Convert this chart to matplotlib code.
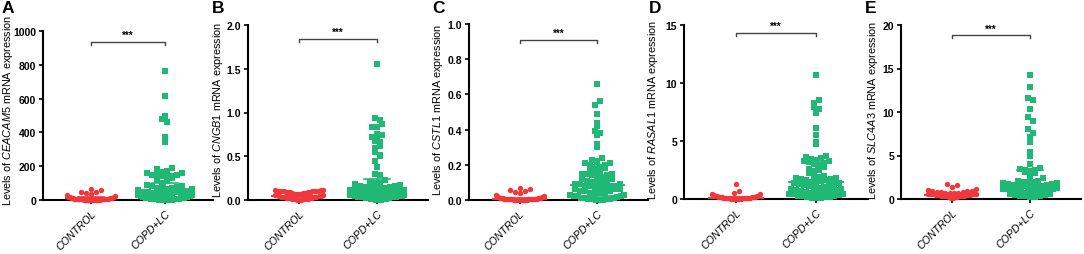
import numpy as np
import matplotlib
matplotlib.use("Agg")
import matplotlib.pyplot as plt

plt.rcParams['font.family'] = ['Liberation Sans', 'DejaVu Sans']
plt.rcParams['mathtext.fontset'] = 'custom'
plt.rcParams['mathtext.it'] = 'Liberation Sans:italic'
plt.rcParams['mathtext.rm'] = 'Liberation Sans'

categories = ["CONTROL", "COPD+LC"]
panel_letters = ["A", "B", "C", "D", "E"]
genes = ["CEACAM5", "CNGB1", "CSTL1", "RASAL1", "SLC4A3"]
y_max = [1000, 2.0, 1.0, 15, 20]
y_ticks = [[0, 200, 400, 600, 800, 1000], [0.0, 0.5, 1.0, 1.5, 2.0],
           [0.0, 0.2, 0.4, 0.6, 0.8, 1.0], [0, 5, 10, 15], [0, 5, 10, 15, 20]]
tick_fmt = ["{:.0f}", "{:.1f}", "{:.1f}", "{:.0f}", "{:.0f}"]
bracket_y = [935, 1.84, 0.91, 14.3, 18.8]

A_ctrl = [0, 0, 0.5, 0.5, 1, 1, 1, 1.5, 1.5, 2, 2, 2, 2.5, 3, 3, 3.5, 4, 4, 4.5, 5, 5, 6, 6, 7, 7, 8,
          9, 10, 11, 12, 13, 15, 17, 20, 24, 28, 35, 40, 45, 50, 60, 68]
A_copd = [0, 0, 0.5, 1, 1, 1.5, 2, 2, 2.5, 3, 3, 4, 4, 5, 5, 6, 7, 8, 9, 10, 11, 12, 13, 14, 15, 16,
          18, 20, 22, 24, 26, 28, 30, 32, 35, 38, 40, 42, 44, 45, 46, 48, 50, 55, 60, 65, 68, 70, 70,
          72, 75, 80, 85, 90, 100, 110, 120, 130, 135, 140, 140, 145, 150, 150, 160, 160, 165, 170,
          185, 190, 345, 370, 460, 480, 495, 615, 765]
B_ctrl = [0, 0.002, 0.004, 0.006, 0.008, 0.01, 0.012, 0.015, 0.018, 0.02, 0.022, 0.025, 0.028, 0.03,
          0.033, 0.036, 0.04, 0.043, 0.046, 0.05, 0.053, 0.056, 0.06, 0.063, 0.066, 0.07, 0.073, 0.076,
          0.08, 0.083, 0.086, 0.09, 0.092, 0.094, 0.096, 0.098, 0.1, 0.1, 0.1, 0.1, 0.1, 0.1, 0.105,
          0.11, 0.12, 0.12]
B_copd = [1.56, 0.94, 0.92, 0.87, 0.84, 0.83, 0.76, 0.74, 0.72, 0.70, 0.68, 0.66, 0.62, 0.60, 0.55,
          0.51, 0.50, 0.45, 0.38, 0.30, 0.29, 0.23, 0.21, 0.2, 0.19, 0.18, 0.17, 0.16, 0.16, 0.15, 0.15,
          0.14, 0.14, 0.13, 0.13, 0.12, 0.12, 0.11, 0.11, 0.1, 0.1, 0.1, 0.09, 0.09, 0.08, 0.08, 0.08,
          0.07, 0.07, 0.07, 0.06, 0.06, 0.06, 0.05, 0.05, 0.05, 0.04, 0.04, 0.04, 0.03, 0.03, 0.03,
          0.02, 0.02, 0.02, 0.015, 0.01, 0.01, 0.008, 0.005, 0.003, 0.001]
C_ctrl = [0, 0, 0, 0, 0.001, 0.001, 0.001, 0.002, 0.002, 0.002, 0.003, 0.003, 0.003, 0.004, 0.004,
          0.005, 0.005, 0.005, 0.006, 0.006, 0.007, 0.007, 0.008, 0.008, 0.009, 0.01, 0.01, 0.011,
          0.012, 0.013, 0.015, 0.018, 0.02, 0.025, 0.03, 0.04, 0.045, 0.05, 0.055, 0.06, 0.07]
C_copd = [0.66, 0.56, 0.54, 0.49, 0.44, 0.42, 0.39, 0.38, 0.37, 0.32, 0.30, 0.24, 0.23, 0.22, 0.21,
          0.21, 0.2, 0.2, 0.19, 0.19, 0.18, 0.17, 0.16, 0.16, 0.15, 0.15, 0.15, 0.14, 0.14, 0.13, 0.13,
          0.12, 0.12, 0.11, 0.11, 0.1, 0.1, 0.1, 0.09, 0.09, 0.09, 0.08, 0.08, 0.08, 0.08, 0.07, 0.07,
          0.07, 0.06, 0.06, 0.06, 0.05, 0.05, 0.05, 0.04, 0.04, 0.04, 0.035, 0.03, 0.03, 0.025, 0.02,
          0.02, 0.015, 0.012, 0.01, 0.01, 0.008, 0.006, 0.004, 0.003, 0.002, 0.001, 0]
D_ctrl = [0, 0.01, 0.02, 0.02, 0.03, 0.03, 0.04, 0.05, 0.05, 0.06, 0.07, 0.08, 0.08, 0.09, 0.1, 0.1,
          0.11, 0.12, 0.13, 0.14, 0.15, 0.16, 0.18, 0.2, 0.22, 0.25, 0.28, 0.3, 0.35, 0.4, 0.45, 0.5,
          0.65, 1.3]
D_copd = [10.7, 8.5, 8.3, 7.9, 7.8, 7.4, 6.1, 5.5, 4.9, 4.7, 3.75, 3.65, 3.5, 3.45, 3.35, 3.3, 3.25,
          3.2, 3.1, 3.0, 2.9, 2.75, 2.6, 2.5, 2.45, 2.2, 2.0, 1.95, 1.9, 1.85, 1.8, 1.75, 1.7, 1.65, 1.6,
          1.55, 1.5, 1.45, 1.4, 1.35, 1.3, 1.25, 1.2, 1.15, 1.1, 1.05, 1.0, 0.95, 0.9, 0.85, 0.8, 0.75,
          0.7, 0.7, 0.65, 0.6, 0.55, 0.5, 0.5, 0.45, 0.4, 0.4, 0.35, 0.3, 0.3, 0.25, 0.2, 0.2, 0.15,
          0.1, 0.1, 0.05]
E_ctrl = [0.1, 0.15, 0.2, 0.2, 0.25, 0.3, 0.3, 0.32, 0.35, 0.35, 0.38, 0.4, 0.4, 0.42, 0.45, 0.45,
          0.48, 0.5, 0.5, 0.52, 0.55, 0.55, 0.58, 0.6, 0.6, 0.62, 0.65, 0.68, 0.7, 0.72, 0.75, 0.8,
          0.85, 0.9, 0.9, 0.95, 1.0, 1.1, 1.4, 1.65, 1.7]
E_copd = [14.3, 12.9, 11.6, 11.4, 10.4, 9.4, 9.0, 8.1, 7.6, 7.1, 6.5, 5.4, 4.9, 4.0, 3.6, 3.45, 3.35,
          3.3, 3.2, 3.1, 3.0, 2.65, 2.4, 2.1, 2.05, 2.0, 1.95, 1.9, 1.85, 1.8, 1.75, 1.7, 1.65, 1.6,
          1.55, 1.5, 1.45, 1.4, 1.35, 1.3, 1.25, 1.2, 1.15, 1.1, 1.05, 1.0, 0.95, 0.9, 0.85, 0.8, 0.75,
          0.7, 0.65, 0.6, 0.55, 0.5, 0.45, 0.4, 0.35, 0.3, 0.25, 0.2]

# (median, q1, q3) per group
ctrl_stats = [(10, 3, 20), (0.045, 0.02, 0.07), (0.005, 0.0, 0.01), (0.1, 0.05, 0.2), (0.5, 0.35, 0.7)]
copd_stats = [(45, 15, 100), (0.1, 0.04, 0.24), (0.085, 0.02, 0.2), (1.5, 0.7, 3.2), (1.3, 0.7, 3.3)]

ctrl_data = [A_ctrl, B_ctrl, C_ctrl, D_ctrl, E_ctrl]
copd_data = [A_copd, B_copd, C_copd, D_copd, E_copd]

RED = "#f0373c"
GREEN = "#1fb874"

W, H = 1084, 255
fig = plt.figure(figsize=(W / 100, H / 100), dpi=100)

# axes rectangles in pixels: left, right, top, bottom
rects = [(43, 213, 32, 201), (248, 428, 26, 201), (469, 648, 25, 201),
         (684, 868, 26, 200), (901, 1081, 26, 200)]
label_off = [-28, -23, -24, -24, -21]
letter_x = [2, 212, 432, 649, 865]


def swarm_offsets(ax, vals, bin_px=5.5, d=5.0, maxw=48.0):
    """Prism-like binned swarm: rows of points, lowest values in the middle."""
    vals = np.asarray(vals, float)
    ypix = ax.transData.transform(np.column_stack([np.zeros_like(vals), vals]))[:, 1]
    y0 = ax.transData.transform([(0, 0)])[0, 1]
    x0 = ax.transData.transform([(0, 0)])[0, 0]
    ppu = ax.transData.transform([(1, 0)])[0, 0] - x0
    bins = np.floor((ypix - y0) / bin_px + 1e-9).astype(int)
    offs = np.zeros_like(vals)
    for bidx in np.unique(bins):
        idx = np.where(bins == bidx)[0]
        idx = idx[np.argsort(vals[idx], kind="stable")]
        n = len(idx)
        if n == 1:
            continue
        sp = min(d, maxw / (n - 1))
        slots = (np.arange(n) - (n - 1) / 2.0) * sp
        order = np.argsort(np.abs(slots) + 1e-6 * np.arange(n) * (1 if bidx % 2 else -1), kind="stable")
        for j, i in enumerate(idx):
            offs[i] = slots[order[j]] / ppu
    return offs


for k in range(5):
    l, r, t, b = rects[k]
    ax = fig.add_axes([l / W, 1 - b / H, (r - l) / W, (b - t) / H])
    ax.set_xlim(-0.65, 1.65)
    ax.set_ylim(0, y_max[k])
    for s in ["top", "right"]:
        ax.spines[s].set_visible(False)
    for s in ["left", "bottom"]:
        ax.spines[s].set_linewidth(1.5)
    ax.set_yticks(y_ticks[k])
    ax.set_yticklabels([tick_fmt[k].format(v) for v in y_ticks[k]], fontsize=7.5, fontweight="bold")
    ax.set_xticks([0, 1])
    ax.set_xticklabels(categories, rotation=45, ha="right", rotation_mode="anchor",
                       fontsize=7.6, style="italic")
    ax.tick_params(axis="y", length=3, width=1.2, pad=2)
    ax.tick_params(axis="x", length=3, width=1.2, pad=3)
    ax.set_ylabel("Levels of $\\mathit{" + genes[k] + "}$ mRNA expression", fontsize=7.8)
    ax.yaxis.set_label_coords(label_off[k] / (r - l), (b - 110.0) / (b - t))

    # swarms
    oc = swarm_offsets(ax, ctrl_data[k], maxw=48.0)
    ax.scatter(0 + oc, ctrl_data[k], s=15, marker="o", color=RED, linewidths=0, clip_on=False, zorder=3)
    og = swarm_offsets(ax, copd_data[k], maxw=54.0)
    ax.scatter(1 + og, copd_data[k], s=15, marker="s", color=GREEN, linewidths=0, clip_on=False, zorder=3)

    # median & IQR lines
    for pos, st, col in [(0, ctrl_stats[k], RED), (1, copd_stats[k], GREEN)]:
        med, q1, q3 = st
        ax.plot([pos - 0.34, pos + 0.34], [med, med], color=col, lw=1.5, zorder=4, clip_on=False)
        ax.plot([pos, pos], [q1, q3], color=col, lw=1.2, zorder=4, clip_on=False)
        ax.plot([pos - 0.17, pos + 0.17], [q3, q3], color=col, lw=1.2, zorder=4, clip_on=False)
        ax.plot([pos - 0.17, pos + 0.17], [q1, q1], color=col, lw=1.2, zorder=4, clip_on=False)

    # significance bracket
    h = y_max[k] * 3.0 / (b - t)
    by = bracket_y[k]
    ax.plot([0, 0, 1, 1], [by - h, by, by, by - h], color="#444444", lw=1.0, clip_on=False)
    ax.text(0.5, by + h * 0.6, "***", ha="center", va="bottom", fontsize=7, fontweight="bold")

    fig.text(letter_x[k] / W, 1 - 1 / H, panel_letters[k], fontsize=12.5, fontweight="bold",
             ha="left", va="top")

fig.savefig("out.png", dpi=100)
